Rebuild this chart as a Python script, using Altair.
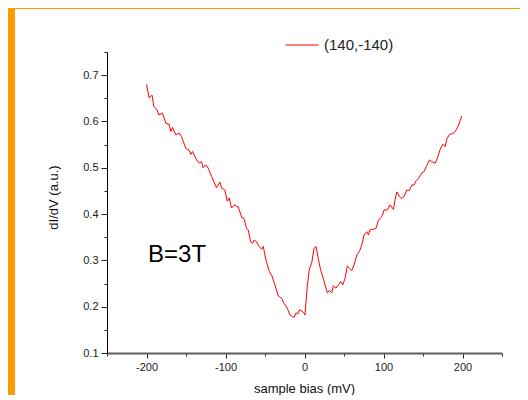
import altair as alt
import pandas as pd

bias_mv = [-200, -196.7, -193, -190.7, -186.5, -184.4, -179.7, -175.5, -171.3, -169.2, -167, -162.9,
           -158.7, -155.6, -150.2, -146, -143.9, -141.7, -136.6, -133.3, -130.3, -128.3, -124.8, -121.9,
           -117.6, -111.3, -107.1, -104.9, -100.8, -97.8, -95.3, -92.3, -88.1, -86, -83.9, -79.6, -76.7,
           -73.3, -71.2, -68.2, -65.7, -63.6, -60.6, -57.3, -54.2, -52.2, -48.8, -44.6, -41.6, -37.4,
           -33.2, -28.9, -26, -21.8, -18.4, -15, -12.9, -10.8, -8.6, -6.6, -3.5, -0.6, 0.6, 3.5, 6.1,
           9.1, 12, 14.6, 17.5, 20.5, 23.8, 26, 28.9, 31.4, 34.5, 36.5, 39.9, 42.8, 45.9, 48.4, 51.3,
           54.2, 56.8, 59.8, 62.7, 66.2, 69.5, 72.5, 75.4, 78.8, 80.9, 83, 86.4, 90.6, 93.5, 97.8,
           100.8, 104.9, 108.4, 112.6, 114.7, 116.9, 120.2, 123.2, 126.1, 129.5, 132.8, 135.9, 138.8,
           141.3, 144.2, 148.5, 151.5, 154, 158.2, 161.2, 165.4, 168.3, 171.7, 175.2, 178.1, 180.2,
           183.5, 187.8, 190.7, 193.7, 197.1, 199.2]
didv = [0.680, 0.651, 0.657, 0.632, 0.625, 0.614, 0.618, 0.596, 0.594, 0.578, 0.587, 0.571,
        0.575, 0.567, 0.542, 0.538, 0.529, 0.535, 0.517, 0.510, 0.513, 0.500, 0.506, 0.499,
        0.481, 0.457, 0.469, 0.456, 0.452, 0.428, 0.435, 0.413, 0.421, 0.416, 0.416, 0.393, 0.391,
        0.369, 0.366, 0.340, 0.337, 0.344, 0.340, 0.330, 0.324, 0.330, 0.301, 0.276, 0.268, 0.247,
        0.223, 0.218, 0.207, 0.197, 0.182, 0.178, 0.177, 0.187, 0.184, 0.193, 0.191, 0.186, 0.182,
        0.243, 0.281, 0.294, 0.326, 0.330, 0.303, 0.279, 0.261, 0.247, 0.230, 0.235, 0.230, 0.245,
        0.240, 0.247, 0.254, 0.247, 0.261, 0.288, 0.283, 0.278, 0.290, 0.312, 0.319, 0.333, 0.355,
        0.362, 0.355, 0.366, 0.367, 0.369, 0.387, 0.394, 0.409, 0.409, 0.420, 0.410, 0.432, 0.448,
        0.438, 0.434, 0.438, 0.452, 0.451, 0.463, 0.463, 0.472, 0.477, 0.489, 0.492, 0.502, 0.517,
        0.513, 0.510, 0.521, 0.540, 0.551, 0.546, 0.562, 0.572, 0.574, 0.578, 0.587, 0.602, 0.612]
series_name = "(140,-140)"
x_ticks = [-250, -200, -150, -100, -50, 0, 50, 100, 150, 200, 250]
y_ticks = [0.1, 0.15, 0.2, 0.25, 0.3, 0.35, 0.4, 0.45, 0.5, 0.55, 0.6, 0.65, 0.7, 0.75]
annotation = "B=3T"

FONT = "Liberation Sans"
W, H = 395, 301
PL, PT, PR, PB = 99, 44, 18, 42

df = pd.DataFrame({"bias": bias_mv, "didv": didv, "series": series_name})
one = pd.DataFrame({"k": [0]})

left_band = alt.Chart(one).mark_rect(color="#ff9900").encode(
    x=alt.value(-PL), x2=alt.value(-PL + 7), y=alt.value(-PT), y2=alt.value(H + PB))
top_band = alt.Chart(one).mark_rect(color="#ff9900").encode(
    x=alt.value(-PL), x2=alt.value(W + PR), y=alt.value(-PT), y2=alt.value(-PT + 1))

MAJ_X = "(datum.value % 100 == 0 && abs(datum.value) < 250)"
MAJ_Y = "(abs(datum.value*10 - round(datum.value*10)) < 0.001)"

x_enc = alt.X("bias:Q",
              scale=alt.Scale(domain=[-250, 250], nice=False, zero=False),
              axis=alt.Axis(values=x_ticks, tickCount=100, title="sample bias (mV)", grid=False,
                            labelExpr=MAJ_X + " ? ('' + datum.value) : ''",
                            tickSize={"condition": {"test": MAJ_X, "value": 5}, "value": 3},
                            labelFlush=False, labelOverlap=False,
                            domainColor="#606060", domainWidth=2, tickColor="#222",
                            labelPadding=3, titleX=197, titleY=35, titleBaseline="middle",
                            titleFontWeight="normal"))
y_enc = alt.Y("didv:Q",
              scale=alt.Scale(domain=[0.1, 0.75], nice=False, zero=False),
              axis=alt.Axis(values=y_ticks, tickCount=100, title="dI/dV (a.u.)", grid=False,
                            labelExpr=MAJ_Y + " ? format(datum.value, '.1f') : ''",
                            tickSize={"condition": {"test": MAJ_Y, "value": 6}, "value": 3},
                            labelFlush=False, labelOverlap=False,
                            domainColor="#000", domainWidth=1, tickColor="#222",
                            labelPadding=3, titleX=-54, titleY=145, titleBaseline="middle",
                            titleFontWeight="normal"))

line = alt.Chart(df).mark_line(strokeWidth=1).encode(
    x=x_enc, y=y_enc,
    color=alt.Color("series:N", scale=alt.Scale(range=["#ff0000"]),
                    legend=alt.Legend(title=None, orient="none", legendX=178, legendY=-24,
                                      symbolType="stroke", symbolSize=1089, symbolStrokeWidth=1,
                                      labelFontSize=15, labelFont=FONT, labelColor="#222",
                                      labelOffset=5, padding=0)),
)

text = alt.Chart(pd.DataFrame({"bias": [-198], "didv": [0.312], "t": [annotation]})).mark_text(
    align="left", baseline="middle", fontSize=24, font=FONT, color="#000").encode(
    x=x_enc, y=y_enc, text="t:N")

chart = alt.layer(left_band, top_band, line, text).properties(
    width=W, height=H,
    background="white",
    autosize=alt.AutoSizeParams(type="none"),
    padding={"left": PL, "top": PT, "right": PR, "bottom": PB},
).configure_view(stroke=None).configure_axis(
    grid=False, labelFont=FONT, labelFontSize=11, labelColor="#222",
    titleFont=FONT, titleFontSize=13, titleFontWeight="normal", titleColor="#111",
)

chart.save("out.html", embed_options={"renderer": "svg", "actions": False})
